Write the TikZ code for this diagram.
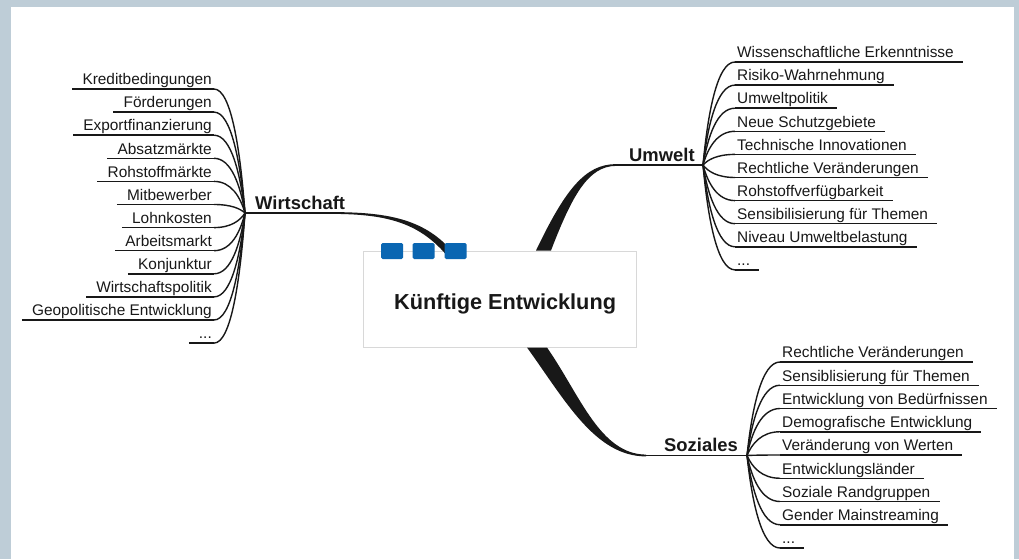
\documentclass[tikz,border=0pt]{standalone}
\usepackage{fontspec}
\setmainfont{Liberation Sans}
\usetikzlibrary{calc}

\definecolor{frame}{RGB}{190,205,215}
\definecolor{ink}{RGB}{24,24,24}
\definecolor{tabblue}{RGB}{10,102,178}
\definecolor{boxline}{RGB}{216,216,216}

\tikzset{
  leaf/.style={font=\fontsize{15.4}{18}\selectfont, text=ink, inner xsep=2pt,
    inner ysep=4pt, text depth=0pt, text height=11pt},
  branch/.style={font=\fontsize{18.4}{22}\selectfont\bfseries, text=ink, inner sep=0pt},
  ul/.style={draw=ink, line width=1.5pt},
  conn/.style={draw=ink, line width=1.4pt},
  tab/.style={fill=tabblue, rounded corners=1.5pt, minimum width=22pt,
    minimum height=16pt, inner sep=0pt},
}

% placeholder leaf text (kept in a macro so \foreach does not read it as a range)
\newcommand\moreitems{...}

% curved twig from a fork point to the start of a leaf's underline
\newcommand\twig[2]{%
  \draw[conn] let \p1=(#1), \p2=(#2) in
    (\p1) .. controls ({\x1+0.15*(\x2-\x1)},{0.5*(\y1+\y2)})
          and ({\x2-0.56*(\x2-\x1)},\y2) .. (\p2);}

\begin{document}
\begin{tikzpicture}[x=1pt,y=-1pt]
  \useasboundingbox (0,0) rectangle (1019,559);
  \fill[frame] (0,0) rectangle (1019,559);
  \fill[white] (11,7) rectangle (1014,559);

  % fork points of the three main branches
  \coordinate (wf) at (245,213);
  \coordinate (uf) at (703,165);
  \coordinate (sf) at (747,455.5);

  % central topic
  \node[draw=boxline, fill=white, line width=1pt, minimum width=273pt,
        minimum height=96pt, inner sep=0pt] (center) at (499.5,299) {};
  \node[font=\fontsize{21.7}{26}\selectfont\bfseries, text=ink, anchor=base west,
        inner sep=0pt] (title) at (394,309) {Künftige Entwicklung};

  % main branch labels
  \node[branch, anchor=base west] (wirt) at (255,209.5) {Wirtschaft};
  \node[branch, anchor=base west] (umw) at (629,161.5) {Umwelt};
  \node[branch, anchor=base west] (soz) at (664,451) {Soziales};

  % Wirtschaft: horizontal run, then a thickening curve into the topic
  \draw[ink, line width=1.8pt] (wf) -- (332,213);
  \fill[ink] (331,212.1) .. controls (386,212.1) and (423,218.5) .. (451,250)
    -- (446,254.5) .. controls (418,222) and (385,213.9) .. (331,213.9) -- cycle;

  % Umwelt: tapered curve out of the top edge
  \fill[ink] ([xshift=36.5pt]center.north) .. controls (565,190) and (585,164.1) .. (616,164.1)
    -- (616,165.9) .. controls (588,166) and (572,196) .. ([xshift=51.5pt]center.north) -- cycle;
  \draw[ink, line width=1.8pt] (614,165) -- (uf);

  % Soziales: tapered curve out of the bottom edge
  \fill[ink] ([xshift=27.5pt]center.south) .. controls (565,400) and (595,456.4) .. (646,456.4)
    -- (646,454.6) .. controls (600,454.3) and (580,395) .. ([xshift=47.5pt]center.south) -- cycle;
  \draw[ink, line width=1.8pt] (644,455.5) -- (sf);

  % tabs on the top edge of the central topic
  \node[tab] (tab1) at (392,251) {};
  \node[tab] (tab2) at (423.5,251) {};
  \node[tab] (tab3) at (455.5,251) {};

  % Wirtschaft leaves
  \foreach \t [count=\i] in {Kreditbedingungen, Förderungen, Exportfinanzierung,
      Absatzmärkte, Rohstoffmärkte, Mitbewerber, Lohnkosten, Arbeitsmarkt,
      Konjunktur, Wirtschaftspolitik, Geopolitische Entwicklung, \moreitems} {
    \node[leaf, anchor=south east] (w\i) at (214,{89+23.1*(\i-1)}) {\t};
    \draw[ul] ([xshift=-8pt]w\i.south west) -- (w\i.south east);
    \twig{wf}{w\i.south east}
  }

  % Umwelt leaves
  \foreach \t [count=\i] in {Wissenschaftliche Erkenntnisse, Risiko-Wahrnehmung,
      Umweltpolitik, Neue Schutzgebiete, Technische Innovationen,
      Rechtliche Veränderungen, Rohstoffverfügbarkeit,
      Sensibilisierung für Themen, Niveau Umweltbelastung, \moreitems} {
    \node[leaf, anchor=south west] (u\i) at (735,{62+23.1*(\i-1)}) {\t};
    \draw[ul] (u\i.south west) -- ([xshift=7pt]u\i.south east);
    \twig{uf}{u\i.south west}
  }

  % Soziales leaves
  \foreach \t [count=\i] in {Rechtliche Veränderungen, Sensiblisierung für Themen,
      Entwicklung von Bedürfnissen, Demografische Entwicklung,
      Veränderung von Werten, Entwicklungsländer, Soziale Randgruppen,
      Gender Mainstreaming, \moreitems} {
    \node[leaf, anchor=south west] (s\i) at (780,{362+23.25*(\i-1)}) {\t};
    \draw[ul] (s\i.south west) -- ([xshift=7pt]s\i.south east);
    \twig{sf}{s\i.south west}
  }
\end{tikzpicture}
\end{document}
